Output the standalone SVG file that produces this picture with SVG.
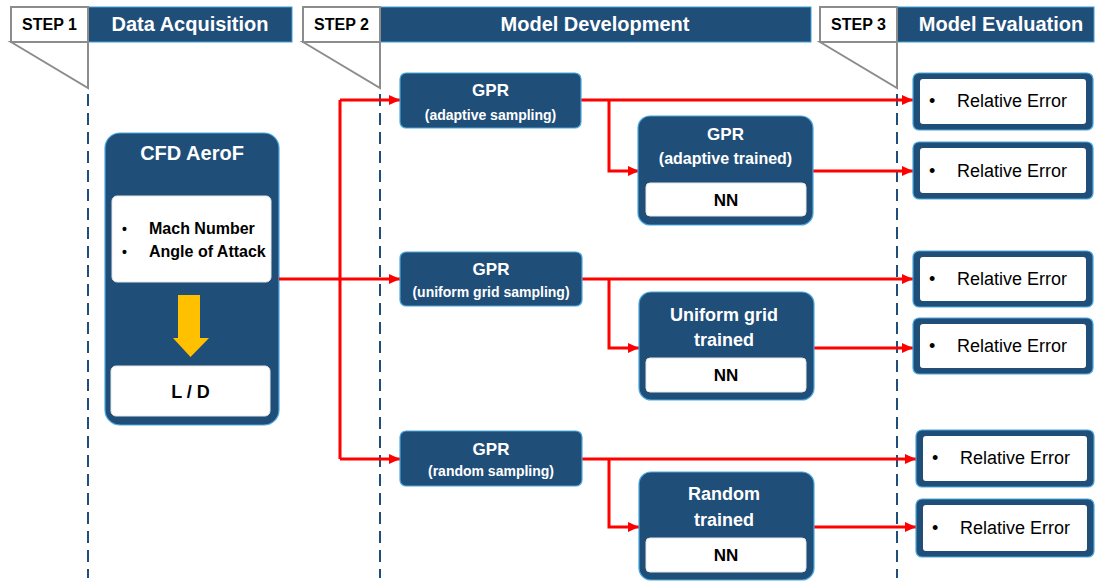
<svg xmlns="http://www.w3.org/2000/svg" width="1103" height="581" viewBox="0 0 1103 581">
<defs>
<marker id="ah" markerUnits="userSpaceOnUse" markerWidth="12" markerHeight="12" refX="11" refY="5" orient="auto">
<path d="M0,0 L11,5 L0,10 z" fill="#ff0000"/>
</marker>
<style>
text{font-family:"Liberation Sans",Arial,sans-serif;}
.bar{fill:#1f4e79;stroke:#3fa0d6;stroke-width:1;}
.step{fill:#ffffff;stroke:#8c8c8c;stroke-width:2;}
.steptxt{font-size:16px;font-weight:bold;fill:#000;text-anchor:middle;}
.hdr{font-size:20px;font-weight:bold;fill:#fff;text-anchor:middle;}
.dash{stroke:#1f4e79;stroke-width:2;stroke-dasharray:12 7;fill:none;}
.node{fill:#1f4e79;stroke:#4aa8de;stroke-width:1.2;}
.wbox{fill:#fff;stroke:#e6e6e6;stroke-width:1;}
.t1{font-size:17px;font-weight:bold;fill:#fff;text-anchor:middle;}
.t2{font-size:14px;font-weight:bold;fill:#fff;text-anchor:middle;}
.t3{font-size:16px;font-weight:bold;fill:#fff;text-anchor:middle;}
.nn{font-size:17px;font-weight:bold;fill:#000;text-anchor:middle;}
.re{font-size:18px;fill:#000;}
.blk{font-size:16px;font-weight:bold;fill:#000;}
.con{stroke:#ff0000;stroke-width:3;fill:none;}
</style>
</defs>
<rect width="1103" height="581" fill="#ffffff"/>

<g id="header1">
<rect class="bar" x="88" y="7" width="204" height="35"/>
<text class="hdr" x="190" y="31">Data Acquisition</text>
<polygon class="step" points="11,42 88,88 88,42"/>
<rect class="step" x="11" y="7" width="77" height="35"/>
<text class="steptxt" x="49.5" y="30">STEP 1</text>
</g>
<g id="header2">
<rect class="bar" x="380" y="7" width="431" height="35"/>
<text class="hdr" x="595" y="31">Model Development</text>
<polygon class="step" points="303,42 380,88 380,42"/>
<rect class="step" x="303" y="7" width="77" height="35"/>
<text class="steptxt" x="341.5" y="30">STEP 2</text>
</g>
<g id="header3">
<rect class="bar" x="897" y="7" width="197" height="35"/>
<text class="hdr" x="1001" y="31">Model Evaluation</text>
<polygon class="step" points="820,42 897,88 897,42"/>
<rect class="step" x="820" y="7" width="77" height="35"/>
<text class="steptxt" x="858.5" y="30">STEP 3</text>
</g>

<g id="dividers">
<line class="dash" x1="88" y1="94" x2="88" y2="578"/>
<line class="dash" x1="380" y1="94" x2="380" y2="578"/>
<line class="dash" x1="897" y1="94" x2="897" y2="578"/>
</g>

<g id="cfd">
<rect class="node" x="105" y="133" width="174" height="292" rx="15"/>
<text class="t1" x="192" y="160" style="font-size:20px">CFD AeroF</text>
<rect class="wbox" x="112" y="196" width="159" height="86" rx="5"/>
<text class="blk" x="122" y="234" style="font-size:14px">•</text>
<text class="blk" x="149" y="234">Mach Number</text>
<text class="blk" x="122" y="257" style="font-size:14px">•</text>
<text class="blk" x="149" y="257">Angle of Attack</text>
<polygon points="178,295 200,295 200,338 209,338 190.5,357 173,338 178,338" fill="#ffc000"/>
<rect class="wbox" x="111" y="366" width="159" height="50" rx="5"/>
<text class="nn" x="190.5" y="398" style="font-size:18px">L / D</text>
</g>

<g id="connectors">
<path class="con" d="M279,279 H400" marker-end="url(#ah)"/>
<path class="con" d="M340,100 V459"/>
<path class="con" d="M340,100 H400" marker-end="url(#ah)"/>
<path class="con" d="M340,459 H400" marker-end="url(#ah)"/>
<path class="con" d="M581,100 H913" marker-end="url(#ah)"/>
<path class="con" d="M609,100 V171 H639" marker-end="url(#ah)"/>
<path class="con" d="M813,171 H913" marker-end="url(#ah)"/>
<path class="con" d="M582,279 H913" marker-end="url(#ah)"/>
<path class="con" d="M609,279 V348 H639" marker-end="url(#ah)"/>
<path class="con" d="M814,348 H913" marker-end="url(#ah)"/>
<path class="con" d="M582,459 H916" marker-end="url(#ah)"/>
<path class="con" d="M609,459 V527 H639" marker-end="url(#ah)"/>
<path class="con" d="M814,527 H916" marker-end="url(#ah)"/>
</g>

<g id="gpr-adaptive">
<rect class="node" x="400" y="73" width="181" height="55" rx="6"/>
<text class="t1" x="490.5" y="96">GPR</text>
<text class="t2" x="490.5" y="120">(adaptive sampling)</text>
</g>
<g id="nn-adaptive">
<rect class="node" x="638" y="116" width="175" height="109" rx="12"/>
<text class="t1" x="725.5" y="140">GPR</text>
<text class="t3" x="725.5" y="164">(adaptive  trained)</text>
<rect class="wbox" x="646" y="183" width="160" height="33" rx="4"/>
<text class="nn" x="726" y="206">NN</text>
</g>

<g id="gpr-uniform">
<rect class="node" x="400" y="252" width="182" height="54" rx="6"/>
<text class="t1" x="491" y="275">GPR</text>
<text class="t2" x="491" y="297">(uniform grid sampling)</text>
</g>
<g id="nn-uniform">
<rect class="node" x="639" y="292" width="175" height="108" rx="12"/>
<text class="t1" x="724" y="321" style="font-size:18px">Uniform grid</text>
<text class="t1" x="724" y="346" style="font-size:18px">trained</text>
<rect class="wbox" x="646" y="358" width="160" height="34" rx="4"/>
<text class="nn" x="726" y="381">NN</text>
</g>

<g id="gpr-random">
<rect class="node" x="400" y="431" width="182" height="55" rx="6"/>
<text class="t1" x="491" y="455">GPR</text>
<text class="t2" x="491" y="476">(random sampling)</text>
</g>
<g id="nn-random">
<rect class="node" x="639" y="472" width="175" height="108" rx="12"/>
<text class="t1" x="724" y="500" style="font-size:18px">Random</text>
<text class="t1" x="724" y="526" style="font-size:18px">trained</text>
<rect class="wbox" x="646" y="538" width="160" height="34" rx="4"/>
<text class="nn" x="726" y="561">NN</text>
</g>

<g id="re1">
<rect class="node" x="913" y="73" width="180" height="57" rx="6"/>
<rect x="920" y="79" width="166" height="45" rx="3" fill="#fff"/>
<text class="re" x="929" y="107">•</text>
<text class="re" x="957" y="107">Relative Error</text>
</g>
<g id="re2">
<rect class="node" x="913" y="142" width="180" height="57" rx="6"/>
<rect x="920" y="148" width="166" height="45" rx="3" fill="#fff"/>
<text class="re" x="929" y="177">•</text>
<text class="re" x="957" y="177">Relative Error</text>
</g>
<g id="re3">
<rect class="node" x="913" y="251" width="180" height="56" rx="6"/>
<rect x="920" y="257" width="166" height="44" rx="3" fill="#fff"/>
<text class="re" x="929" y="285">•</text>
<text class="re" x="957" y="285">Relative Error</text>
</g>
<g id="re4">
<rect class="node" x="913" y="318" width="180" height="56" rx="6"/>
<rect x="920" y="324" width="166" height="44" rx="3" fill="#fff"/>
<text class="re" x="929" y="352">•</text>
<text class="re" x="957" y="352">Relative Error</text>
</g>
<g id="re5">
<rect class="node" x="916" y="430" width="178" height="57" rx="6"/>
<rect x="923" y="436" width="164" height="45" rx="3" fill="#fff"/>
<text class="re" x="932" y="464">•</text>
<text class="re" x="960" y="464">Relative Error</text>
</g>
<g id="re6">
<rect class="node" x="916" y="499" width="178" height="58" rx="6"/>
<rect x="923" y="505" width="164" height="46" rx="3" fill="#fff"/>
<text class="re" x="932" y="534">•</text>
<text class="re" x="960" y="534">Relative Error</text>
</g>
</svg>
